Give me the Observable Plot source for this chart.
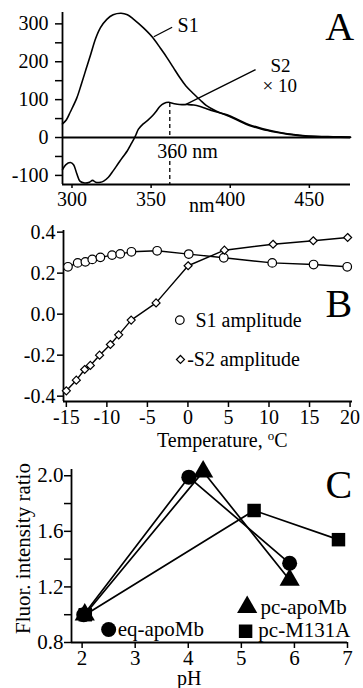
<!DOCTYPE html>
<html><head><meta charset="utf-8">
<script src="https://cdn.jsdelivr.net/npm/d3@7"></script>
<script src="https://cdn.jsdelivr.net/npm/@observablehq/plot@0.6"></script>
<style>
body{margin:0;background:#fff}
svg{display:block}
svg text, svg tspan{font-family:'Liberation Serif','Times New Roman',serif !important;}
#pa g[aria-label$="tick label"] text, #pb g[aria-label$="tick label"] text{font-size:20px;}
#pc g[aria-label$="tick label"] text{font-size:21px;}
</style>
</head><body><div id="pa"></div><div id="pb"></div><div id="pc"></div>
<script>
// ---------- Panel A data ----------
const wlS1 = [294, 296.5, 299, 303, 306, 309, 312, 315, 318, 322, 326, 331, 335, 339, 345, 351, 356, 360, 364, 368, 372, 377, 381, 385, 391, 398, 405, 412, 420, 429, 436, 444, 455, 465, 476];
const s1 = [36, 47, 68, 104, 142, 182, 222, 262, 290, 312, 324, 328, 324, 312, 290, 264, 235, 211, 185, 159, 136, 115, 99, 84, 70, 58, 45, 32, 22, 14, 9, 5, 2, 1, 0];
const wlS2 = [294, 296, 299, 301, 303, 305, 308, 311, 313, 315, 318, 320, 323, 326, 329, 332, 335, 337, 339, 340.5, 342, 345, 348, 351, 353, 355.5, 358, 361, 364, 368, 373, 377, 381, 385, 391, 398, 405, 412, 420, 429, 436, 444, 455, 465, 476];
const s2x10 = [-85, -72, -66, -72, -95, -115, -120, -118, -113, -118, -118, -115, -105, -88, -70, -52, -35, -20, -5, 8, 22, 36, 46, 58, 68, 82, 90, 93, 90, 87, 87, 86, 82, 76, 68, 60, 47, 34, 24, 15, 10, 6, 3, 2, 1];
const peakNm = 361.8;
const aXTicks = [300, 350, 400, 450];
const aYTicks = [-100, 0, 100, 200, 300];
const aYMinor = [-50, 50, 150, 250];

// ---------- Panel B data ----------
const tempS1 = [-14.8, -13.6, -12.65, -11.8, -10.8, -9.36, -8.35, -6.97, -3.8, 0.1, 4.42, 10.4, 15.5, 19.65];
const ampS1 = [0.231, 0.25, 0.255, 0.267, 0.277, 0.288, 0.294, 0.304, 0.309, 0.293, 0.275, 0.25, 0.242, 0.231];
const tempS2 = [-15, -13.77, -12.74, -12.04, -10.9, -9.57, -8.54, -7.0, -3.93, 0.02, 4.5, 10.5, 15.46, 19.7];
const ampS2 = [-0.374, -0.322, -0.27, -0.25, -0.2, -0.148, -0.101, -0.029, 0.055, 0.236, 0.312, 0.341, 0.358, 0.374];
const bXTicks = [-15, -10, -5, 0, 5, 10, 15, 20];
const bYTicks = [-0.4, -0.2, 0, 0.2, 0.4];

// ---------- Panel C data ----------
const phEq = [2.03, 4.01, 5.91];
const ratioEq = [1.0, 1.99, 1.37];
const phPc = [2.05, 4.28, 5.91];
const ratioPc = [1.0, 2.03, 1.25];
const phM = [2.06, 5.24, 6.83];
const ratioM = [1.0, 1.75, 1.54];
const cXTicks = [2, 3, 4, 5, 6, 7];
const cYTicks = [0.8, 1.2, 1.6, 2.0];
const cYMinor = [1.0, 1.4, 1.8];

const FONT = "'Liberation Serif', 'Times New Roman', serif";
const zip = (xs, ys) => xs.map((x, i) => ({x, y: ys[i]}));
const baseStyle = {fontFamily: FONT, fontSize: "20px", color: "black", background: "white", overflow: "visible"};

// ---------- Panel A ----------
const aXD = [294, 476], aYD = [-124, 330];
const plotA = Plot.plot({
  width: 363, height: 220,
  marginLeft: 62, marginRight: 13, marginTop: 12, marginBottom: 36,
  style: baseStyle,
  x: {domain: aXD}, y: {domain: aYD},
  marks: [
    Plot.axisX({ticks: aXTicks, tickSize: 4, tickPadding: 3, strokeWidth: 1.5, tickFormat: d => String(d), label: null, fontSize: 20}),
    Plot.axisY({ticks: aYTicks, tickSize: 7, tickPadding: 7, strokeWidth: 1.5, tickFormat: d => String(d), label: null, fontSize: 20}),
    Plot.axisY({ticks: aYMinor, tickSize: 7, strokeWidth: 1.5, tickFormat: () => "", label: null}),
    Plot.ruleX([aXD[0]], {strokeWidth: 1.8}),
    Plot.ruleY([aYD[0]], {strokeWidth: 1.8}),
    Plot.ruleY([0], {strokeWidth: 2}),
    Plot.ruleX([{y1: 90, y2: 5}, {y1: -45, y2: aYD[0]}], {x: () => peakNm, y1: "y1", y2: "y2", strokeDasharray: "4,3", strokeWidth: 1.3}),
    Plot.line(zip(wlS2, s2x10), {x: "x", y: "y", curve: "catmull-rom", strokeWidth: 1.6}),
    Plot.line(zip(wlS1, s1), {x: "x", y: "y", curve: "catmull-rom", strokeWidth: 1.6}),
    Plot.link([{x1: 351.7, y1: 266, x2: 363.3, y2: 291}, {x1: 371.7, y1: 87, x2: 416, y2: 179}], {x1: "x1", y1: "y1", x2: "x2", y2: "y2", strokeWidth: 1.3}),
    Plot.text([{x: 366.7, y: 295, t: "S1"}], {x: "x", y: "y", text: "t", textAnchor: "start", fontSize: 20}),
    Plot.text([{x: 425.4, y: 188, t: "S2"}, {x: 420.4, y: 135, t: "× 10"}], {x: "x", y: "y", text: "t", textAnchor: "start", fontSize: 19}),
    Plot.text([{x: 373, y: -37, t: "360 nm"}], {x: "x", y: "y", text: "t", fontSize: 20}),
    Plot.text(["nm"], {x: () => 382, frameAnchor: "bottom", dy: 21, lineAnchor: "middle", textAnchor: "middle", text: d => d, fontSize: 20}),
    Plot.text(["A"], {x: () => 460, y: () => 291, text: d => d, textAnchor: "start", fontSize: 40})
  ]
});
document.getElementById("pa").appendChild(plotA);

// ---------- Panel B ----------
const bXD = [-15.35, 20.3], bYD = [-0.426, 0.408];
const plotB = Plot.plot({
  width: 363, height: 230,
  marginLeft: 63, marginRight: 11, marginTop: 10, marginBottom: 49,
  style: baseStyle,
  x: {domain: bXD}, y: {domain: bYD},
  marks: [
    Plot.axisX({ticks: bXTicks, tickSize: 6, tickPadding: 2, strokeWidth: 1.5, tickFormat: d => String(d), label: null, fontSize: 20}),
    Plot.axisY({ticks: bYTicks, tickSize: 6, tickPadding: 2, strokeWidth: 1.5, tickFormat: d => d.toFixed(1), label: null, fontSize: 20}),
    Plot.ruleX([bXD[0]], {strokeWidth: 1.8}),
    Plot.ruleY([bYD[0]], {strokeWidth: 1.8}),
    Plot.line(zip(tempS1, ampS1), {x: "x", y: "y", strokeWidth: 1.4}),
    Plot.line(zip(tempS2, ampS2), {x: "x", y: "y", strokeWidth: 1.4}),
    Plot.dot(zip(tempS1, ampS1), {x: "x", y: "y", r: 4.3, fill: "white", stroke: "black", strokeWidth: 1.2}),
    Plot.dot(zip(tempS2, ampS2), {x: "x", y: "y", r: 3.6, symbol: "diamond2", fill: "white", stroke: "black", strokeWidth: 1.2}),
    Plot.dot([{x: -1.0, y: -0.029}], {x: "x", y: "y", r: 4.3, fill: "white", stroke: "black", strokeWidth: 1.2}),
    Plot.dot([{x: -0.92, y: -0.221}], {x: "x", y: "y", r: 3.6, symbol: "diamond2", fill: "white", stroke: "black", strokeWidth: 1.2}),
    Plot.text([{x: 0.93, y: -0.029, t: "S1 amplitude"}, {x: -0.09, y: -0.221, t: "-S2 amplitude"}], {x: "x", y: "y", text: "t", textAnchor: "start", fontSize: 20}),
    Plot.text(["Temperature, oC"], {x: () => 4.23, frameAnchor: "bottom", dy: 39, lineAnchor: "middle", textAnchor: "middle", text: d => d, fontSize: 20}),
    Plot.text(["B"], {x: () => 16.98, y: () => 0.051, text: d => d, textAnchor: "start", fontSize: 40})
  ]
});
plotB.querySelectorAll("text").forEach(t => {
  if (t.textContent === "Temperature, oC") {
    t.textContent = "";
    const ns = "http://www.w3.org/2000/svg";
    const a = document.createElementNS(ns, "tspan"); a.textContent = "Temperature, ";
    const b = document.createElementNS(ns, "tspan"); b.textContent = "o"; b.setAttribute("font-size", "13"); b.setAttribute("dy", "-7");
    const c = document.createElementNS(ns, "tspan"); c.textContent = "C"; c.setAttribute("dy", "7");
    t.append(a, b, c);
  }
});
document.getElementById("pb").appendChild(plotB);

// ---------- Panel C ----------
const cXD = [1.8, 7.0], cYD = [0.8, 2.045];
const plotC = Plot.plot({
  width: 363, height: 238,
  marginLeft: 71, marginRight: 16, marginTop: 19, marginBottom: 46,
  style: baseStyle,
  x: {domain: cXD}, y: {domain: cYD},
  marks: [
    Plot.axisX({ticks: cXTicks, tickSize: 6, tickPadding: 2, strokeWidth: 1.5, tickFormat: d => String(d), label: null, fontSize: 21}),
    Plot.axisY({ticks: cYTicks, tickSize: 7, tickPadding: 1, strokeWidth: 1.5, tickFormat: d => d.toFixed(1), label: null, fontSize: 21}),
    Plot.axisY({ticks: cYMinor, tickSize: 7, strokeWidth: 1.5, tickFormat: () => "", label: null}),
    Plot.ruleX([cXD[0]], {strokeWidth: 1.8}),
    Plot.ruleY([cYD[0]], {strokeWidth: 1.8}),
    Plot.line(zip(phEq, ratioEq), {x: "x", y: "y", strokeWidth: 1.7}),
    Plot.line(zip(phPc, ratioPc), {x: "x", y: "y", strokeWidth: 1.7}),
    Plot.line(zip(phM, ratioM), {x: "x", y: "y", strokeWidth: 1.7}),
    Plot.dot(zip(phEq, ratioEq), {x: "x", y: "y", r: 7.5, fill: "black"}),
    Plot.dot(zip(phPc, ratioPc), {x: "x", y: "y", r: 7.5, symbol: "triangle", fill: "black"}),
    Plot.dot(zip(phM, ratioM), {x: "x", y: "y", r: 7.6, symbol: "square", fill: "black"}),
    Plot.dot([{x: 5.11, y: 1.054}], {x: "x", y: "y", r: 7.5, symbol: "triangle", fill: "black"}),
    Plot.dot([{x: 5.08, y: 0.881}], {x: "x", y: "y", r: 7.6, symbol: "square", fill: "black"}),
    Plot.dot([{x: 2.5, y: 0.894}], {x: "x", y: "y", r: 7.5, fill: "black"}),
    Plot.text([{x: 5.36, y: 1.054, t: "pc-apoMb"}, {x: 5.32, y: 0.886, t: "pc-M131A"}, {x: 2.67, y: 0.894, t: "eq-apoMb"}], {x: "x", y: "y", text: "t", textAnchor: "start", fontSize: 21}),
    Plot.text(["pH"], {x: () => 4.02, frameAnchor: "bottom", dy: 36, lineAnchor: "middle", textAnchor: "middle", text: d => d, fontSize: 20}),
    Plot.text(["Fluor. intensity ratio"], {y: () => 1.476, frameAnchor: "left", dx: -48, rotate: -90, textAnchor: "middle", lineAnchor: "middle", text: d => d, fontSize: 21}),
    Plot.text(["C"], {x: () => 6.585, y: () => 1.93, text: d => d, textAnchor: "start", fontSize: 40})
  ]
});
document.getElementById("pc").appendChild(plotC);
</script></body></html>
